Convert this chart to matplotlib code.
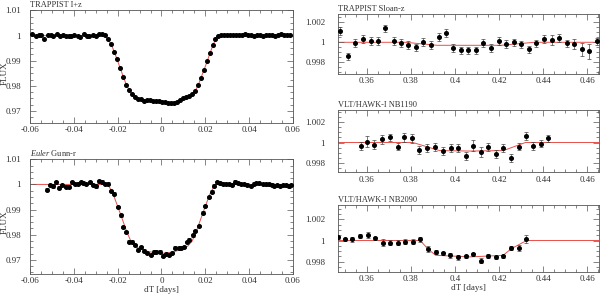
import numpy as np
import matplotlib
matplotlib.use('Agg')
import matplotlib.pyplot as plt
from matplotlib.ticker import MultipleLocator, FuncFormatter

# ---- TRAPPIST I+z (top left)
tl_t = [-0.0589, -0.0574, -0.0559, -0.0548, -0.0535, -0.0519, -0.0506, -0.0493, -0.0478, -0.0464,
        -0.0451, -0.0437, -0.0423, -0.0411, -0.0397, -0.0382, -0.0370, -0.0355, -0.0341, -0.0329,
        -0.0314, -0.0300, -0.0285, -0.0271, -0.0257,
        -0.0244, -0.0230, -0.0216, -0.0203, -0.0189, -0.0175, -0.0161, -0.0148, -0.0134, -0.0120,
        -0.0107, -0.0093, -0.0079, -0.0065, -0.0052, -0.0038, -0.0024, -0.0011, 0.0003, 0.0017,
        0.0031, 0.0044, 0.0058, 0.0072, 0.0085, 0.0099, 0.0113, 0.0126, 0.0140, 0.0154,
        0.0168, 0.0181, 0.0195, 0.0209, 0.0222, 0.0235, 0.0245, 0.0259,
        0.0273, 0.0286, 0.0300, 0.0314, 0.0327, 0.0341, 0.0355, 0.0369, 0.0382, 0.0396,
        0.0410, 0.0423, 0.0437, 0.0451, 0.0464, 0.0478, 0.0492, 0.0506, 0.0519, 0.0533,
        0.0547, 0.0560, 0.0574, 0.0588]
tl_f = [1.0005, 0.9997, 1.0001, 1.0001, 0.9988, 1.0003, 1.0001, 0.9997, 1.0005, 0.9997,
        1.0004, 0.9997, 1.0000, 0.9999, 1.0001, 0.9999, 0.9995, 1.0005, 0.9999, 1.0000,
        1.0004, 1.0000, 1.0008, 1.0005, 1.0004,
        0.9987, 0.9968, 0.9935, 0.9906, 0.9872, 0.9837, 0.9804, 0.9783, 0.9767, 0.9756,
        0.9748, 0.9746, 0.9740, 0.9742, 0.9744, 0.9740, 0.9738, 0.9739, 0.9735, 0.9734,
        0.9730, 0.9730, 0.9731, 0.9735, 0.9744, 0.9750, 0.9754, 0.9758, 0.9767, 0.9781,
        0.9803, 0.9833, 0.9865, 0.9898, 0.9932, 0.9962, 0.9985, 0.9999,
        1.0001, 1.0003, 1.0003, 1.0003, 1.0003, 1.0003, 1.0003, 1.0004, 1.0007, 1.0001,
        1.0003, 0.9999, 1.0001, 1.0001, 1.0000, 1.0003, 1.0003, 1.0004, 0.9997, 1.0001,
        1.0005, 1.0004, 1.0001, 1.0004]
tl_model_t = [-0.06, -0.0258, -0.0245, -0.0230, -0.0216, -0.0203, -0.0189, -0.0175, -0.0161, -0.0148,
              -0.0134, -0.0120, -0.0100, -0.0070, -0.0040, 0.0000, 0.0040, 0.0070, 0.0100, 0.0120,
              0.0140, 0.0155, 0.0168, 0.0181, 0.0195, 0.0209, 0.0222, 0.0235, 0.0247, 0.0258, 0.06]
tl_model_f = [1.0, 1.0, 0.9986, 0.9966, 0.9937, 0.9906, 0.9872, 0.9838, 0.9806, 0.9784,
              0.9767, 0.9756, 0.9748, 0.9742, 0.9738, 0.9735, 0.9733, 0.9736, 0.9748, 0.9756,
              0.9767, 0.9782, 0.9804, 0.9834, 0.9866, 0.9899, 0.9932, 0.9962, 0.9986, 1.0, 1.0]

# ---- Euler Gunn-r (bottom left)
bl_t = [-0.0521, -0.0507, -0.0493, -0.0480, -0.0468, -0.0452, -0.0437, -0.0423, -0.0407, -0.0394,
        -0.0382, -0.0369, -0.0356, -0.0343, -0.0327, -0.0314, -0.0300, -0.0285, -0.0271, -0.0257,
        -0.0244, -0.0232, -0.0216,
        -0.0200, -0.0187, -0.0174, -0.0163, -0.0146, -0.0134, -0.0120, -0.0107, -0.0093, -0.0078,
        -0.0064, -0.0050, -0.0034, -0.0023, -0.0009, 0.0006, 0.0020, 0.0032, 0.0047, 0.0062,
        0.0078, 0.0091, 0.0104, 0.0116, 0.0126, 0.0143, 0.0155, 0.0169, 0.0189, 0.0199,
        0.0215, 0.0230, 0.0241, 0.0253, 0.0266, 0.0280, 0.0294, 0.0308, 0.0323, 0.0336,
        0.0350, 0.0364, 0.0376, 0.0391, 0.0407, 0.0420, 0.0432, 0.0446, 0.0461, 0.0475,
        0.0489, 0.0502, 0.0515, 0.0528, 0.0542, 0.0556, 0.0569, 0.0582, 0.0591]
bl_f = [0.9979, 0.9997, 0.9992, 1.0008, 0.9987, 0.9997, 0.9991, 0.9991, 1.0008, 1.0001,
        1.0003, 1.0009, 1.0007, 1.0001, 1.0009, 0.9997, 0.9992, 1.0012, 1.0011, 1.0001,
        1.0003, 0.9973, 0.9963,
        0.9911, 0.9877, 0.9831, 0.9811, 0.9773, 0.9773, 0.9760, 0.9741, 0.9752, 0.9737,
        0.9728, 0.9720, 0.9733, 0.9733, 0.9733, 0.9717, 0.9724, 0.9720, 0.9728, 0.9749,
        0.9747, 0.9747, 0.9752, 0.9771, 0.9781, 0.9797, 0.9815, 0.9835, 0.9888, 0.9915,
        0.9951, 0.9971, 0.9995, 1.0008, 1.0004, 1.0003, 1.0001, 1.0001, 0.9997, 1.0011,
        1.0005, 1.0001, 1.0001, 0.9999, 0.9993, 1.0003, 1.0005, 1.0004, 1.0001, 1.0000,
        1.0000, 0.9999, 0.9995, 0.9997, 0.9993, 0.9997, 0.9996, 0.9992, 0.9997]
bl_err = 0.0005
bl_model_t = [-0.06, -0.0245, -0.0235, -0.0220, -0.0200, -0.0180, -0.0160, -0.0140, -0.0120, -0.0100,
              -0.0060, -0.0020, 0.0000, 0.0020, 0.0060, 0.0100, 0.0120, 0.0140, 0.0160, 0.0180,
              0.0200, 0.0220, 0.0235, 0.0245, 0.06]
bl_model_f = [1.0, 1.0, 0.9985, 0.9960, 0.9913, 0.9865, 0.9815, 0.9775, 0.9755, 0.9745,
              0.9733, 0.9727, 0.9726, 0.9727, 0.9733, 0.9745, 0.9755, 0.9775, 0.9815, 0.9865,
              0.9913, 0.9960, 0.9985, 1.0, 1.0]

# ---- TRAPPIST Sloan-z (top right)
tr_t = [0.3479, 0.3517, 0.3549, 0.3582, 0.3618, 0.3651, 0.3685, 0.3722, 0.3754, 0.3789,
        0.3822, 0.3857, 0.3890, 0.3926, 0.3958, 0.3993, 0.4028, 0.4059, 0.4096, 0.4129,
        0.4165, 0.4198, 0.4233, 0.4268, 0.4301, 0.4334, 0.4369, 0.4404, 0.4438, 0.4473,
        0.4506, 0.4541, 0.4577, 0.4609, 0.4645]
tr_f = [1.0011, 0.9986, 0.9999, 1.0003, 1.0001, 1.0001, 1.0014, 1.0001, 0.9999, 0.9997,
        0.9995, 1.0000, 0.9997, 1.0005, 1.0009, 0.9994, 0.9992, 0.9992, 0.9992, 0.9999,
        0.9994, 1.0001, 0.9998, 1.0000, 0.9998, 0.9993, 0.9999, 1.0003, 1.0002, 1.0004,
        0.9999, 0.9998, 0.9993, 0.9991, 1.0001]
tr_e = [0.0004, 0.00033, 0.0004, 0.0004, 0.0004, 0.0004, 0.00033, 0.0004, 0.0004, 0.0004,
        0.00033, 0.0004, 0.0004, 0.0004, 0.0004, 0.0004, 0.00033, 0.00033, 0.00033, 0.0004,
        0.0004, 0.0004, 0.0004, 0.00033, 0.00033, 0.00033, 0.00033, 0.0004, 0.0005, 0.0004,
        0.00033, 0.0005, 0.00067, 0.00073, 0.00033]
tr_model_t = [0.3469, 0.3775, 0.3920, 0.4210, 0.4360, 0.4653]
tr_model_f = [1.0, 1.0, 0.9997, 0.9997, 1.0, 1.0]

# ---- VLT/HAWK-I NB1190 (middle right)
mr_t = [0.3574, 0.3603, 0.3635, 0.3670, 0.3706, 0.3741, 0.3771, 0.3805, 0.3839, 0.3875,
        0.3908, 0.3944, 0.3981, 0.4014, 0.4049, 0.4083, 0.4117, 0.4151, 0.4186, 0.4219,
        0.4254, 0.4289, 0.4324, 0.4355, 0.4389, 0.4422]
mr_f = [0.9997, 1.0001, 0.9998, 1.0003, 1.0005, 0.9996, 1.0005, 1.0004, 0.9993, 0.9995,
        0.9996, 0.9992, 0.9995, 0.9995, 0.9987, 0.9997, 0.9991, 0.9996, 0.9989, 0.9995,
        0.9985, 0.9996, 1.0006, 0.9997, 0.9999, 1.0004]
mr_e = [0.0004, 0.0005, 0.00043, 0.0004, 0.00033, 0.00033, 0.0004, 0.0004, 0.0004, 0.0004,
        0.0004, 0.0004, 0.0004, 0.0004, 0.0004, 0.0005, 0.0005, 0.0004, 0.0004, 0.0004,
        0.0004, 0.00033, 0.0004, 0.0004, 0.00033, 0.00033]
mr_model_t = [0.3469, 0.3810, 0.3930, 0.4070, 0.4220, 0.4320, 0.4653]
mr_model_f = [1.0, 1.0, 0.9992, 0.99915, 0.9992, 1.0, 1.0]

# ---- VLT/HAWK-I NB2090 (bottom right)
br_t = [0.3472, 0.3503, 0.3535, 0.3570, 0.3605, 0.3638, 0.3673, 0.3707, 0.3741, 0.3775,
        0.3812, 0.3843, 0.3878, 0.3913, 0.3946, 0.3979, 0.4014, 0.4049, 0.4082, 0.4117,
        0.4151, 0.4186, 0.4219, 0.4254, 0.4289, 0.4324]
br_f = [1.0003, 1.0001, 1.0001, 1.0004, 1.0005, 1.0002, 0.9998, 0.9998, 0.9998, 0.9999,
        0.9999, 1.0001, 0.9992, 0.9989, 0.9988, 0.9986, 0.9984, 0.9985, 0.9987, 0.9981,
        0.9985, 0.9984, 0.9985, 0.9993, 0.9993, 1.0001]
br_e = [0.00016, 0.00016, 0.00025, 0.0002, 0.0003, 0.00016, 0.0003, 0.00025, 0.00025, 0.0002,
        0.00025, 0.00025, 0.0003, 0.00016, 0.00016, 0.00025, 0.00025, 0.00016, 0.00016, 0.0002,
        0.0002, 0.00016, 0.00016, 0.0002, 0.00025, 0.00038]
br_model_t = [0.3469, 0.3843, 0.3878, 0.3913, 0.4070, 0.4219, 0.4254, 0.4289, 0.4325, 0.4653]
br_model_f = [1.0, 1.0, 0.9992, 0.9986, 0.99845, 0.9986, 0.9992, 0.9996, 1.0, 1.0]

plt.rcParams['font.family'] = ['Liberation Serif', 'DejaVu Serif']
plt.rcParams['mathtext.fontset'] = 'custom'
plt.rcParams['mathtext.it'] = 'Liberation Serif:italic'
FS = 6.5
TXT = '#333333'


def fmt(v, pos):
    s = '%g' % round(v, 4)
    return '0' if s in ('-0', '0') else s


def style(ax, xmaj, xmin, ymaj, ymin, ypad):
    ax.xaxis.set_major_locator(MultipleLocator(xmaj))
    ax.xaxis.set_minor_locator(MultipleLocator(xmin))
    ax.yaxis.set_major_locator(MultipleLocator(ymaj))
    ax.yaxis.set_minor_locator(MultipleLocator(ymin))
    ax.xaxis.set_major_formatter(FuncFormatter(fmt))
    ax.yaxis.set_major_formatter(FuncFormatter(fmt))
    ax.tick_params(which='both', direction='in', top=True, right=True,
                   labelsize=FS, labelcolor=TXT, color='#555555', width=0.5)
    ax.tick_params(axis='x', pad=2.5)
    ax.tick_params(axis='y', pad=ypad)
    ax.tick_params(which='major', length=4)
    ax.tick_params(which='minor', length=2)
    for s in ax.spines.values():
        s.set_linewidth(0.6)
        s.set_color('#555555')


def panel(ax, t, f, e, mt, mf, title):
    ax.plot(mt, mf, color='#e8504a', lw=0.7, zorder=1)
    if e is None:
        ax.plot(t, f, 'o', color='black', ms=2.6, zorder=3)
    else:
        ax.errorbar(t, f, yerr=e, fmt='o', color='black', ms=2.6, ecolor='#444444',
                    elinewidth=0.5, capsize=1.2, capthick=0.5, zorder=3)
    ax.text(0.0, 1.01, title, transform=ax.transAxes, fontsize=6, color=TXT,
            ha='left', va='bottom')


fig = plt.figure(figsize=(6.0, 2.94), dpi=100)

ax1 = fig.add_axes([0.050, 0.5816, 0.4383, 0.3844])
panel(ax1, tl_t, tl_f, None, tl_model_t, tl_model_f, 'TRAPPIST I+z')
ax1.set_xlim(-0.06, 0.06)
ax1.set_ylim(0.9652, 1.0102)
style(ax1, 0.02, 0.005, 0.01, 0.0025, 6.5)
ax1.set_ylabel('FLUX', fontsize=FS, color=TXT)
ax1.yaxis.set_label_coords(-0.082, 0.44)

ax2 = fig.add_axes([0.050, 0.0690, 0.4383, 0.3892])
panel(ax2, bl_t, bl_f, bl_err, bl_model_t, bl_model_f, r'$\mathit{Euler}$ Gunn-r')
ax2.set_xlim(-0.06, 0.06)
ax2.set_ylim(0.9645, 1.0100)
style(ax2, 0.02, 0.005, 0.01, 0.0025, 6.5)
ax2.set_ylabel('FLUX', fontsize=FS, color=TXT)
ax2.yaxis.set_label_coords(-0.082, 0.45)
ax2.set_xlabel('dT [days]', fontsize=FS, color=TXT, labelpad=0.5)

ax3 = fig.add_axes([0.5628, 0.7483, 0.4355, 0.2041])
panel(ax3, tr_t, tr_f, tr_e, tr_model_t, tr_model_f, 'TRAPPIST Sloan-z')
ax3.set_xlim(0.3469, 0.4653)
ax3.set_ylim(0.99683, 1.00283)
style(ax3, 0.02, 0.005, 0.002, 0.0005, 9)

ax4 = fig.add_axes([0.5628, 0.4139, 0.4355, 0.2120])
panel(ax4, mr_t, mr_f, mr_e, mr_model_t, mr_model_f, 'VLT/HAWK-I NB1190')
ax4.set_xlim(0.3469, 0.4653)
ax4.set_ylim(0.99704, 1.00323)
style(ax4, 0.02, 0.005, 0.002, 0.0005, 9)

ax5 = fig.add_axes([0.5628, 0.0759, 0.4355, 0.2268])
panel(ax5, br_t, br_f, br_e, br_model_t, br_model_f, 'VLT/HAWK-I NB2090')
ax5.set_xlim(0.3469, 0.4653)
ax5.set_ylim(0.99705, 1.00336)
style(ax5, 0.02, 0.005, 0.002, 0.0005, 9)
ax5.set_xlabel('dT [days]', fontsize=FS, color=TXT, labelpad=0.5)

fig.savefig('out.png', dpi=100)
